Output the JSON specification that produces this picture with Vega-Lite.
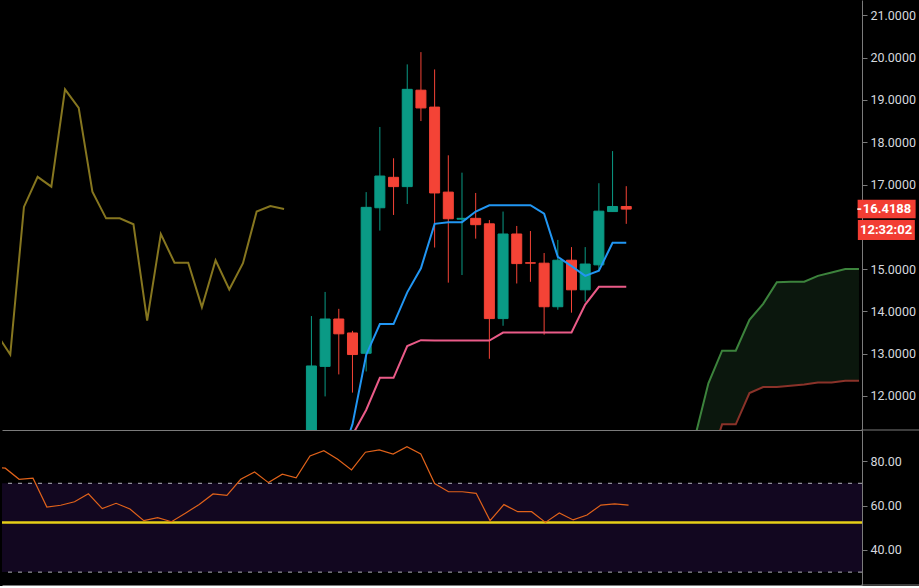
{
  "$schema": "https://vega.github.io/schema/vega-lite/v6.json",
  "background": "#000000",
  "padding": 0,
  "autosize": {"type": "pad"},
  "spacing": 0,
  "bounds": "flush",
  "config": {
    "view": {"stroke": null},
    "font": "Roboto",
    "axis": {"grid": false, "title": null, "domainColor": "#7b7b7b", "tickColor": "#7b7b7b", "labelColor": "#d6d8de", "labelFont": "Roboto", "labelFontSize": 12.5, "tickSize": 5, "labelPadding": 3},
    "axisX": {"labels": false, "ticks": false, "domain": true},
    "axisY": {"orient": "right", "labelOverlap": false}
  },
  "resolve": {"scale": {"x": "independent", "y": "independent"}},
  "datasets": {
    "candles": [
      {"i":22,"o":10.6,"h":13.89,"l":10.4,"c":12.71},
      {"i":23,"o":12.70,"h":14.46,"l":11.99,"c":13.82},
      {"i":24,"o":13.82,"h":14.06,"l":12.51,"c":13.47},
      {"i":25,"o":13.49,"h":13.54,"l":12.08,"c":12.98},
      {"i":26,"o":13.01,"h":16.82,"l":12.58,"c":16.46},
      {"i":27,"o":16.45,"h":18.36,"l":15.91,"c":17.20},
      {"i":28,"o":17.17,"h":17.62,"l":16.28,"c":16.95},
      {"i":29,"o":16.95,"h":19.84,"l":16.54,"c":19.25},
      {"i":30,"o":19.23,"h":20.13,"l":18.50,"c":18.81},
      {"i":31,"o":18.83,"h":19.72,"l":15.51,"c":16.80},
      {"i":32,"o":16.82,"h":17.69,"l":14.68,"c":16.19},
      {"i":33,"o":16.18,"h":17.28,"l":14.86,"c":16.20},
      {"i":34,"o":16.20,"h":16.80,"l":15.72,"c":16.05},
      {"i":35,"o":16.07,"h":16.16,"l":12.88,"c":13.83},
      {"i":36,"o":13.83,"h":16.36,"l":13.66,"c":15.83},
      {"i":37,"o":15.83,"h":16.02,"l":14.66,"c":15.13},
      {"i":38,"o":15.15,"h":15.90,"l":14.70,"c":15.14},
      {"i":39,"o":15.14,"h":15.38,"l":13.45,"c":14.11},
      {"i":40,"o":14.11,"h":15.69,"l":14.04,"c":15.21},
      {"i":41,"o":15.21,"h":15.52,"l":13.97,"c":14.51},
      {"i":42,"o":14.51,"h":15.52,"l":14.23,"c":15.12},
      {"i":43,"o":15.10,"h":17.03,"l":14.96,"c":16.37},
      {"i":44,"o":16.36,"h":17.79,"l":16.36,"c":16.48},
      {"i":45,"o":16.48,"h":16.96,"l":16.07,"c":16.4188}
    ],
    "ichi": [
      {"i":-1,"chikou":13.47},
      {"i":0,"chikou":12.98},
      {"i":1,"chikou":16.47},
      {"i":2,"chikou":17.18},
      {"i":3,"chikou":16.95},
      {"i":4,"chikou":19.25},
      {"i":5,"chikou":18.81},
      {"i":6,"chikou":16.83},
      {"i":7,"chikou":16.20},
      {"i":8,"chikou":16.20},
      {"i":9,"chikou":16.06},
      {"i":10,"chikou":13.78},
      {"i":11,"chikou":15.83},
      {"i":12,"chikou":15.15},
      {"i":13,"chikou":15.15},
      {"i":14,"chikou":14.10},
      {"i":15,"chikou":15.21},
      {"i":16,"chikou":14.52},
      {"i":17,"chikou":15.14},
      {"i":18,"chikou":16.36},
      {"i":19,"chikou":16.49},
      {"i":20,"chikou":16.42},
      {"i":24,"tenkan":10.4,"kijun":10.8},
      {"i":25,"tenkan":11.33,"kijun":11.08},
      {"i":26,"tenkan":12.97,"kijun":11.67},
      {"i":27,"tenkan":13.70,"kijun":12.43},
      {"i":28,"tenkan":13.70,"kijun":12.43},
      {"i":29,"tenkan":14.45,"kijun":13.18},
      {"i":30,"tenkan":15.02,"kijun":13.32},
      {"i":31,"tenkan":16.07,"kijun":13.31},
      {"i":32,"tenkan":16.11,"kijun":13.31},
      {"i":33,"tenkan":16.11,"kijun":13.31},
      {"i":34,"tenkan":16.36,"kijun":13.31},
      {"i":35,"tenkan":16.51,"kijun":13.31},
      {"i":36,"tenkan":16.51,"kijun":13.50},
      {"i":37,"tenkan":16.51,"kijun":13.50},
      {"i":38,"tenkan":16.51,"kijun":13.50},
      {"i":39,"tenkan":16.31,"kijun":13.50},
      {"i":40,"tenkan":15.29,"kijun":13.50},
      {"i":41,"tenkan":15.07,"kijun":13.50},
      {"i":42,"tenkan":14.84,"kijun":14.16},
      {"i":43,"tenkan":14.96,"kijun":14.58},
      {"i":44,"tenkan":15.62,"kijun":14.58},
      {"i":45,"tenkan":15.62,"kijun":14.58},
      {"i":50,"spanA":11.0,"spanB":9.6},
      {"i":51,"spanA":12.30,"spanB":10.3},
      {"i":52,"spanA":13.07,"spanB":11.33},
      {"i":53,"spanA":13.07,"spanB":11.33},
      {"i":54,"spanA":13.80,"spanB":12.07},
      {"i":55,"spanA":14.18,"spanB":12.21},
      {"i":56,"spanA":14.69,"spanB":12.21},
      {"i":57,"spanA":14.70,"spanB":12.24},
      {"i":58,"spanA":14.70,"spanB":12.27},
      {"i":59,"spanA":14.84,"spanB":12.32},
      {"i":60,"spanA":14.92,"spanB":12.32},
      {"i":61,"spanA":15.00,"spanB":12.36},
      {"i":62,"spanA":15.00,"spanB":12.36}
    ],
    "rsi": [
      {"i":-1,"v":77.5},{"i":0,"v":76.8},{"i":1,"v":71.8},{"i":2,"v":72.3},{"i":3,"v":59.3},
      {"i":4,"v":60.1},{"i":5,"v":61.7},{"i":6,"v":65.3},{"i":7,"v":58.6},{"i":8,"v":61.0},
      {"i":9,"v":58.4},{"i":10,"v":53.2},{"i":11,"v":54.5},{"i":12,"v":52.7},{"i":13,"v":56.5},
      {"i":14,"v":60.5},{"i":15,"v":65.2},{"i":16,"v":64.6},{"i":17,"v":71.8},{"i":18,"v":75.1},
      {"i":19,"v":70.3},{"i":20,"v":74.1},{"i":21,"v":72.5},{"i":22,"v":82.3},{"i":23,"v":84.7},
      {"i":24,"v":80.8},{"i":25,"v":76.0},{"i":26,"v":84.0},{"i":27,"v":85.0},{"i":28,"v":83.2},
      {"i":29,"v":86.5},{"i":30,"v":83.2},{"i":31,"v":69.9},{"i":32,"v":66.2},{"i":33,"v":66.2},
      {"i":34,"v":65.5},{"i":35,"v":53.2},{"i":36,"v":60.4},{"i":37,"v":57.2},{"i":38,"v":57.2},
      {"i":39,"v":52.4},{"i":40,"v":56.6},{"i":41,"v":53.5},{"i":42,"v":55.7},{"i":43,"v":60.2},
      {"i":44,"v":60.7},{"i":45,"v":60.2}
    ],
    "last": [{"price":16.4188,"label":"16.4188","timer":"12:32:02"}],
    "levels": [{"v":70},{"v":30}],
    "band": [{"top":70,"bottom":30}],
    "ma": [{"v":52.3}],
    "seps": [{"v":94.0},{"v":24.2}]
  },
  "vconcat": [
    {
      "width": 860,
      "height": 430,
      "layer": [
        {
          "data": {"name": "ichi"},
          "transform": [{"filter": "isValid(datum.spanA)"}],
          "mark": {"type": "area", "color": "#0b170d", "clip": true},
          "encoding": {
            "x": {"field": "i", "type": "quantitative", "scale": {"domain": [-0.238, 61.856], "nice": false, "zero": false}},
            "y": {"field": "spanA", "type": "quantitative", "scale": {"domain": [11.196, 21.362], "nice": false, "zero": false},
                  "axis": {"values": [12,13,14,15,17,18,19,20,21], "format": ".4f"}},
            "y2": {"field": "spanB"}
          }
        },
        {
          "data": {"name": "ichi"},
          "transform": [{"filter": "isValid(datum.spanA)"}],
          "mark": {"type": "line", "color": "#3c833c", "strokeWidth": 2, "clip": true},
          "encoding": {"x": {"field": "i", "type": "quantitative"}, "y": {"field": "spanA", "type": "quantitative", "axis": {"values": [12,13,14,15,17,18,19,20,21], "format": ".4f"}}}
        },
        {
          "data": {"name": "ichi"},
          "transform": [{"filter": "isValid(datum.spanB)"}],
          "mark": {"type": "line", "color": "#8a3229", "strokeWidth": 2, "clip": true},
          "encoding": {"x": {"field": "i", "type": "quantitative"}, "y": {"field": "spanB", "type": "quantitative", "axis": {"values": [12,13,14,15,17,18,19,20,21], "format": ".4f"}}}
        },
        {
          "data": {"name": "candles"},
          "mark": {"type": "rule", "strokeWidth": 1, "clip": true},
          "encoding": {
            "x": {"field": "i", "type": "quantitative"},
            "y": {"field": "l", "type": "quantitative", "axis": {"values": [12,13,14,15,17,18,19,20,21], "format": ".4f"}},
            "y2": {"field": "h"},
            "color": {"condition": {"test": "datum.c >= datum.o", "value": "#0a9a85"}, "value": "#f44336"}
          }
        },
        {
          "data": {"name": "candles"},
          "mark": {"type": "bar", "size": 10, "strokeWidth": 1, "clip": true},
          "encoding": {
            "x": {"field": "i", "type": "quantitative"},
            "y": {"field": "o", "type": "quantitative", "axis": {"values": [12,13,14,15,17,18,19,20,21], "format": ".4f"}},
            "y2": {"field": "c"},
            "fill": {"condition": {"test": "datum.c >= datum.o", "value": "#0a9a85"}, "value": "#f44336"},
            "stroke": {"condition": {"test": "datum.c >= datum.o", "value": "#0a9a85"}, "value": "#f44336"}
          }
        },
        {
          "data": {"name": "ichi"},
          "transform": [{"filter": "isValid(datum.chikou)"}],
          "mark": {"type": "line", "color": "#86761f", "strokeWidth": 2, "clip": true},
          "encoding": {"x": {"field": "i", "type": "quantitative"}, "y": {"field": "chikou", "type": "quantitative", "axis": {"values": [12,13,14,15,17,18,19,20,21], "format": ".4f"}}}
        },
        {
          "data": {"name": "ichi"},
          "transform": [{"filter": "isValid(datum.kijun)"}],
          "mark": {"type": "line", "color": "#ea5b88", "strokeWidth": 2, "clip": true},
          "encoding": {"x": {"field": "i", "type": "quantitative"}, "y": {"field": "kijun", "type": "quantitative", "axis": {"values": [12,13,14,15,17,18,19,20,21], "format": ".4f"}}}
        },
        {
          "data": {"name": "ichi"},
          "transform": [{"filter": "isValid(datum.tenkan)"}],
          "mark": {"type": "line", "color": "#2196f3", "strokeWidth": 2, "clip": true},
          "encoding": {"x": {"field": "i", "type": "quantitative"}, "y": {"field": "tenkan", "type": "quantitative", "axis": {"values": [12,13,14,15,17,18,19,20,21], "format": ".4f"}}}
        },
        {
          "data": {"name": "last"},
          "mark": {"type": "point", "shape": "M-2,-0.64H2V0.64H-2Z", "filled": true, "fill": "#f23d33", "strokeWidth": 0, "size": 841, "opacity": 1},
          "encoding": {"x": {"datum": 64.02, "type": "quantitative"}, "y": {"field": "price", "type": "quantitative", "axis": {"values": [12,13,14,15,17,18,19,20,21], "format": ".4f"}}}
        },
        {
          "data": {"name": "last"},
          "mark": {"type": "point", "shape": "M-2,-0.7H2V0.7H-2Z", "filled": true, "fill": "#f23d33", "strokeWidth": 0, "size": 812, "opacity": 1, "yOffset": 21},
          "encoding": {"x": {"datum": 64.0, "type": "quantitative"}, "y": {"field": "price", "type": "quantitative", "axis": {"values": [12,13,14,15,17,18,19,20,21], "format": ".4f"}}}
        },
        {
          "data": {"name": "last"},
          "mark": {"type": "tick", "orient": "horizontal", "color": "#ffffff", "size": 4, "thickness": 1.5, "opacity": 1},
          "encoding": {"x": {"datum": 62.02, "type": "quantitative"}, "y": {"field": "price", "type": "quantitative", "axis": {"values": [12,13,14,15,17,18,19,20,21], "format": ".4f"}}}
        },
        {
          "data": {"name": "last"},
          "mark": {"type": "text", "color": "#ffffff", "font": "Roboto", "fontSize": 13, "fontWeight": "bold", "align": "center", "baseline": "middle"},
          "encoding": {"x": {"datum": 64.05, "type": "quantitative"}, "y": {"field": "price", "type": "quantitative", "axis": {"values": [12,13,14,15,17,18,19,20,21], "format": ".4f"}}, "text": {"field": "label"}}
        },
        {
          "data": {"name": "last"},
          "mark": {"type": "text", "color": "#ffffff", "font": "Roboto", "fontSize": 13, "fontWeight": "bold", "align": "center", "baseline": "middle", "dy": 21},
          "encoding": {"x": {"datum": 63.98, "type": "quantitative"}, "y": {"field": "price", "type": "quantitative", "axis": {"values": [12,13,14,15,17,18,19,20,21], "format": ".4f"}}, "text": {"field": "timer"}}
        }
      ]
    },
    {
      "width": 860,
      "height": 155,
      "layer": [
        {
          "data": {"name": "band"},
          "mark": {"type": "rect", "color": "#120720", "clip": true},
          "encoding": {
            "x": {"datum": -1, "type": "quantitative", "scale": {"domain": [-0.238, 61.856], "nice": false, "zero": false}},
            "x2": {"datum": 63},
            "y": {"field": "top", "type": "quantitative", "scale": {"domain": [24.2, 94.0], "nice": false, "zero": false},
                  "axis": {"values": [40, 60, 80], "format": ".2f"}},
            "y2": {"field": "bottom"}
          }
        },
        {
          "data": {"name": "levels"},
          "mark": {"type": "rule", "color": "#b4b4bc", "strokeWidth": 1, "strokeDash": [4, 6]},
          "encoding": {"y": {"field": "v", "type": "quantitative", "axis": {"values": [40, 60, 80], "format": ".2f"}}}
        },
        {
          "data": {"name": "ma"},
          "mark": {"type": "rule", "color": "#e6cf17", "strokeWidth": 2.5},
          "encoding": {"y": {"field": "v", "type": "quantitative", "axis": {"values": [40, 60, 80], "format": ".2f"}}}
        },
        {
          "data": {"name": "rsi"},
          "mark": {"type": "line", "color": "#e0621a", "strokeWidth": 1.2, "clip": true},
          "encoding": {"x": {"field": "i", "type": "quantitative"}, "y": {"field": "v", "type": "quantitative", "axis": {"values": [40, 60, 80], "format": ".2f"}}}
        },
        {
          "data": {"name": "seps"},
          "mark": {"type": "rule", "color": "#7b7b7b", "strokeWidth": 1},
          "encoding": {
            "x": {"datum": 61.8, "type": "quantitative"},
            "x2": {"datum": 66.1},
            "y": {"field": "v", "type": "quantitative", "axis": {"values": [40, 60, 80], "format": ".2f"}}
          }
        }
      ]
    }
  ]
}
